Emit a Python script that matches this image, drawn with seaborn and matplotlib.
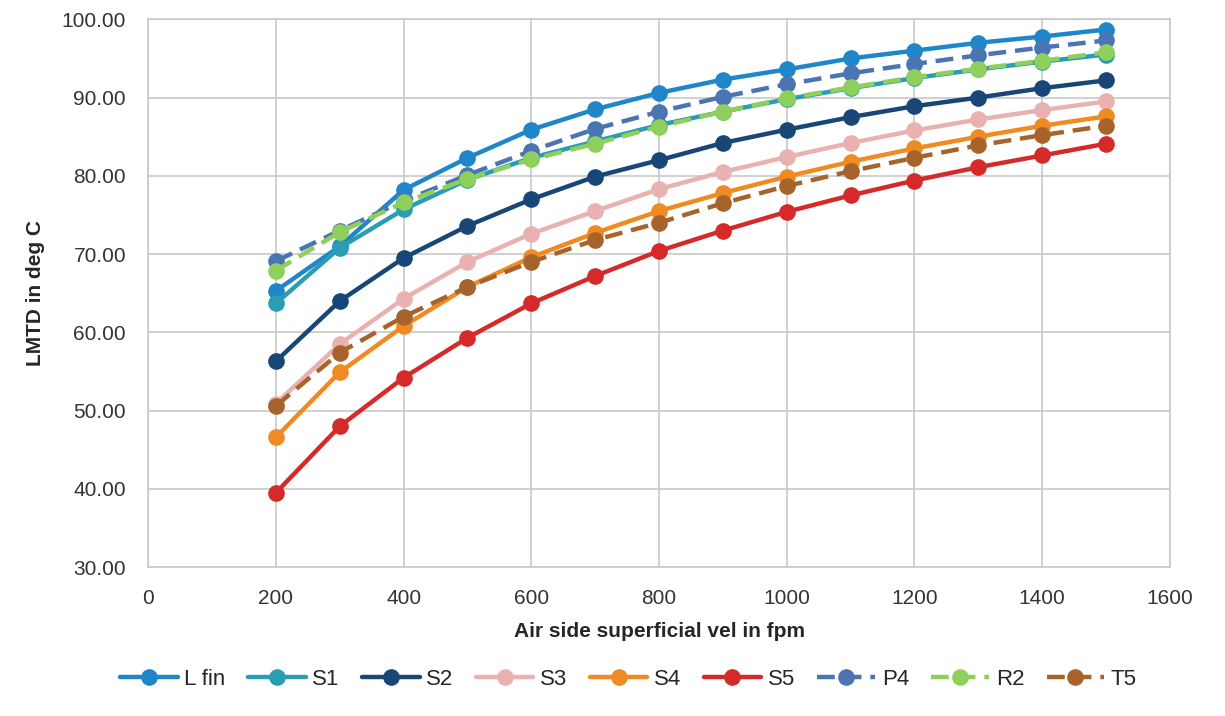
import pandas as pd
import numpy as np
import matplotlib
matplotlib.use("Agg")
import matplotlib.pyplot as plt
import seaborn as sns
from matplotlib.ticker import FormatStrFormatter

# DATA
vel = [200, 300, 400, 500, 600, 700, 800, 900, 1000, 1100, 1200, 1300, 1400, 1500]
l_fin = [65.3, 71.0, 78.2, 82.3, 85.9, 88.5, 90.6, 92.3, 93.6, 95.0, 96.0, 97.0, 97.8, 98.7]
s1 = [63.7, 70.8, 75.7, 79.5, 82.3, 84.4, 86.5, 88.2, 89.8, 91.2, 92.5, 93.6, 94.6, 95.5]
s2 = [56.3, 64.0, 69.5, 73.6, 77.0, 79.9, 82.0, 84.2, 85.9, 87.5, 88.9, 90.0, 91.2, 92.2]
s3 = [50.9, 58.5, 64.3, 69.0, 72.6, 75.5, 78.3, 80.5, 82.4, 84.2, 85.8, 87.2, 88.4, 89.5]
s4 = [46.6, 54.9, 60.8, 65.8, 69.6, 72.7, 75.5, 77.8, 79.9, 81.8, 83.5, 85.0, 86.4, 87.6]
s5 = [39.5, 48.0, 54.2, 59.3, 63.7, 67.2, 70.4, 73.0, 75.4, 77.5, 79.4, 81.1, 82.6, 84.1]
p4 = [69.1, 73.0, 76.8, 80.1, 83.2, 86.0, 88.2, 90.1, 91.7, 93.1, 94.3, 95.4, 96.4, 97.3]
r2 = [67.9, 72.8, 76.6, 79.6, 82.1, 84.1, 86.3, 88.2, 89.9, 91.3, 92.6, 93.7, 94.7, 95.8]
t5 = [50.6, 57.4, 62.0, 65.8, 69.0, 71.8, 74.0, 76.5, 78.7, 80.6, 82.3, 83.9, 85.2, 86.4]

names = ["L fin", "S1", "S2", "S3", "S4", "S5", "P4", "R2", "T5"]
values = [l_fin, s1, s2, s3, s4, s5, p4, r2, t5]
colors = ["#1f87c9", "#2a9db4", "#184777", "#e9b1b0", "#f08a22", "#d42a2a", "#4a74b2", "#8fcf5c", "#a6642c"]
dashed = [False, False, False, False, False, False, True, True, True]

sns.set_style("white")
plt.rcParams['font.family'] = ['Liberation Sans', 'DejaVu Sans']

fig, ax = plt.subplots(figsize=(12.25, 7.16), dpi=100)
fig.subplots_adjust(left=0.121, right=0.955, top=0.973, bottom=0.208)

for name, vals, c, d in zip(names, values, colors, dashed):
    df = pd.DataFrame({"vel": vel, "lmtd": vals})
    sns.lineplot(data=df, x="vel", y="lmtd", ax=ax, color=c, label=name,
                 marker="o", markersize=12, markeredgewidth=0, linewidth=3.2,
                 linestyle=(0, (4, 2)) if d else "-")

ax.set_xlim(0, 1600)
ax.set_ylim(30, 100)
ax.set_xticks(np.arange(0, 1601, 200))
ax.set_yticks(np.arange(30, 101, 10))
ax.yaxis.set_major_formatter(FormatStrFormatter("%.2f"))
ax.grid(True, color="#c8c8c8", linewidth=1.2)
for s in ax.spines.values():
    s.set_color("#c8c8c8")
    s.set_linewidth(1.2)
ax.tick_params(labelsize=15, length=0, labelcolor="#333333")
ax.tick_params(axis="x", pad=16)
ax.tick_params(axis="y", pad=16)
ax.set_xlabel("Air side superficial vel in fpm", fontsize=15, fontweight="bold", labelpad=10)
ax.set_ylabel("LMTD in deg C", fontsize=15, fontweight="bold", labelpad=12)

ax.legend(loc="upper center", bbox_to_anchor=(0.47, -0.15), ncol=9, frameon=False,
          fontsize=16, handlelength=2.6, columnspacing=1.0, handletextpad=0.3)

plt.savefig("out.png", dpi=100)
